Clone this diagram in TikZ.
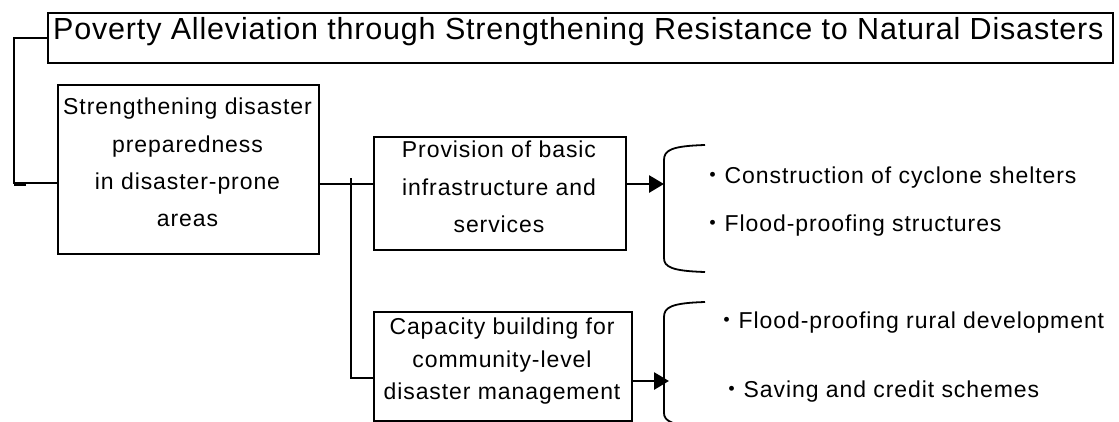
\documentclass[tikz,border=0pt]{standalone}
\usepackage{fontspec}
\setmainfont{Liberation Sans}[LetterSpace=4.0]
\newfontfamily\titlefont{Liberation Sans}[LetterSpace=2.7]
\newfontfamily\jpfont{Noto Sans CJK JP}
\usetikzlibrary{arrows.meta}
\begin{document}
\begin{tikzpicture}[x=1pt,y=-1pt,
  box/.style={draw, line width=1.6pt, inner sep=0pt, anchor=north west},
  boxtext/.style={align=center, inner sep=0pt, anchor=center},
  item/.style={anchor=base west, inner sep=0pt, font=\fontsize{23}{28}\selectfont},
  conn/.style={line width=2.6pt},
  arr/.style={line width=2.8pt, -{Triangle[length=15pt,width=17pt]}},
  bracket/.style={line width=1.8pt}]
\useasboundingbox (0,0) rectangle (1119,421);
\clip (0,0) rectangle (1119,421);

% title
\node[box, line width=2.4pt, minimum width=1065pt, minimum height=50pt] (title) at (47,12) {};
\node[anchor=base west, inner sep=0pt, font=\fontsize{30.5}{36}\selectfont\titlefont] (titletext) at (53,39)
  {Poverty Alleviation through Strengthening Resistance to Natural Disasters};

% boxes
\node[box, minimum width=261pt, minimum height=169pt] (box1) at (57,84) {};
\node[boxtext, font=\fontsize{23}{37.2}\selectfont] (box1text) at (187.5,162.4)
  {Strengthening disaster\\preparedness\\in disaster-prone\\areas};

\node[box, minimum width=252pt, minimum height=113pt] (box2) at (373,136) {};
\node[boxtext, font=\fontsize{23}{37.5}\selectfont] (box2text) at (499,187.1)
  {Provision of basic\\infrastructure and\\services};

\node[box, minimum width=258pt, minimum height=109pt] (box3) at (373,311) {};
\node[boxtext, font=\fontsize{23}{32.5}\selectfont] (box3text) at (502,361.5)
  {Capacity building for\\community-level\\disaster management};

% junction coordinates
\coordinate (jl) at (14,183);
\coordinate (j1) at (351,184);
\coordinate (j1top) at (351,178);
\coordinate (j2) at (351,378);
\coordinate (b1) at (664,184);
\coordinate (b2) at (669,381);

% connectors
\draw[line width=2pt] (title.west) -| (jl) -- (box1.west |- jl);
\draw[line width=1.6pt] (jl) ++(0,1.8) -- ++(12,0);
\draw[conn] (box1.east |- j1) -- (box2.west |- j1);
\draw[conn] (j1top) -- (j2) -- (box3.west |- j2);
\draw[arr] (box2.east |- b1) -- (b1);
\draw[arr] (box3.east |- b2) -- (b2);

% brackets
\draw[bracket] (705,145) .. controls (672,146) and (664,150) .. (664,160) -- (664,258) .. controls (664,267) and (672,271) .. (705,272);
\draw[bracket] (705,302) .. controls (672,303) and (664,307) .. (664,317) -- (664,413) .. controls (664,421) and (672,426) .. (705,427);

% items
\node[item] (i1) at (701.5,183) {{\jpfont ・}Construction of cyclone shelters};
\node[item] (i2) at (701.5,231) {{\jpfont ・}Flood-proofing structures};
\node[item] (i3) at (715.5,328) {{\jpfont ・}Flood-proofing rural development};
\node[item] (i4) at (720.5,397) {{\jpfont ・}Saving and credit schemes};
\end{tikzpicture}
\end{document}
